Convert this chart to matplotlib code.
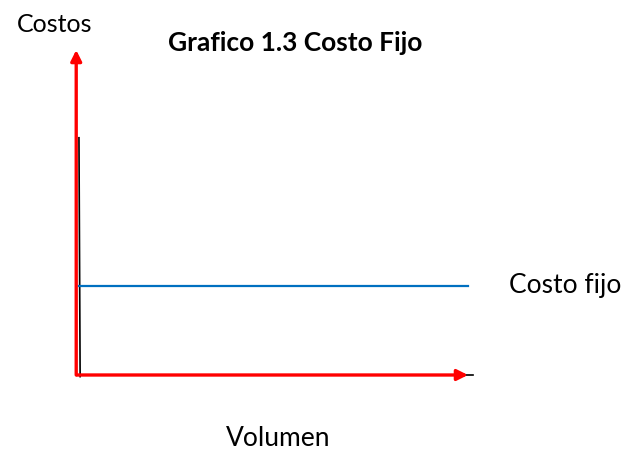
import matplotlib
matplotlib.use("Agg")
import matplotlib.pyplot as plt

# Data (volume units, cost units)
volume = [0, 10]
fixed_cost = [2.75, 2.75]
axis_x_end = 10.0
axis_y_end = 10.0
title = "Grafico 1.3 Costo Fijo"
x_label = "Volumen"
y_label = "Costos"
series_label = "Costo fijo"

plt.rcParams['font.family'] = ['Lato', 'DejaVu Sans']

fig = plt.figure(figsize=(6.33, 4.5), dpi=100)
ax = fig.add_axes([0, 0, 1, 1])
ax.set_xlim(-77 / 39.1, (633 - 77) / 39.1)
ax.set_ylim(-75 / 32.5, 375 / 32.5)
ax.axis('off')

# black thin lines beneath axes
ax.plot([0, axis_x_end + 0.12], [0, 0], color='black', lw=1.2, zorder=1)
ax.plot([0.05, 0.08], [7.3, -0.05], color='black', lw=1.2, zorder=1)

# fixed cost line
ax.plot([0.05, volume[1]], fixed_cost, color='#0070C0', lw=1.6, zorder=2)

# red axes arrows
arrow = dict(arrowstyle='-|>', color='#FF0000', lw=2.4, mutation_scale=16, shrinkA=0, shrinkB=0)
ax.annotate('', xy=(axis_x_end, 0), xytext=(0, 0), arrowprops=arrow, zorder=3)
ax.annotate('', xy=(-0.02, axis_y_end), xytext=(-0.02, 0), arrowprops=arrow, zorder=3)

ax.text(-0.56, 10.77, y_label, fontsize=18, ha='center', va='center')
ax.text((295 - 77) / 39.1, (375 - 43) / 32.5, title, fontsize=19, fontweight='bold', ha='center', va='center')
ax.text((565 - 77) / 39.1, fixed_cost[0], series_label, fontsize=19, ha='center', va='center')
ax.text((278 - 77) / 39.1, (375 - 438) / 32.5, x_label, fontsize=19, ha='center', va='center')

fig.savefig('out.png', dpi=100)
